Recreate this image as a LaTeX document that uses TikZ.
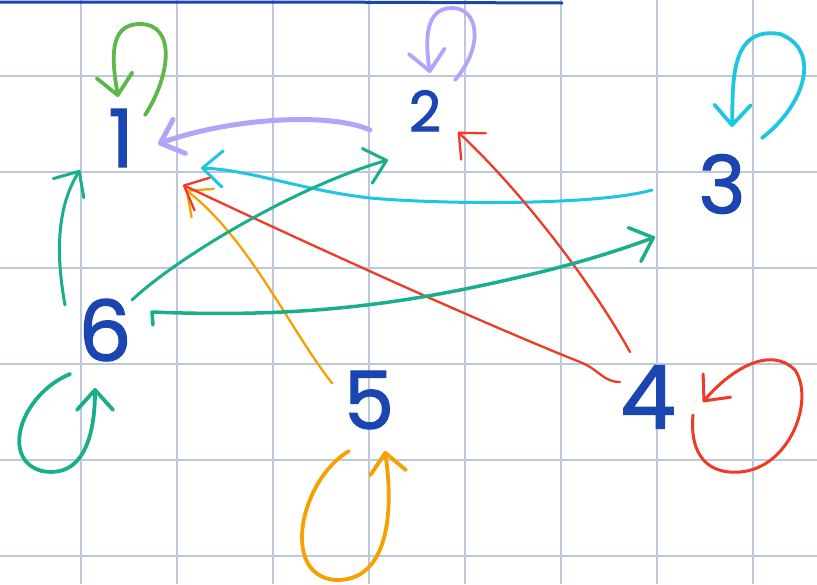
\documentclass[tikz,border=0pt]{standalone}
\usepackage{fontspec}
\newfontfamily\numfont{Poppins}[FakeBold=1.6]
\usetikzlibrary{arrows.meta,calc}
\definecolor{gridc}{RGB}{188,200,220}
\definecolor{numc}{RGB}{27,70,178}
\definecolor{lgreen}{RGB}{93,184,72}
\definecolor{teal}{RGB}{26,174,140}
\definecolor{lav}{RGB}{179,164,251}
\definecolor{cyanc}{RGB}{30,198,226}
\definecolor{redc}{RGB}{238,58,38}
\definecolor{orangec}{RGB}{247,160,0}
\tikzset{
  num/.style={text=numc,inner sep=0pt,font=\numfont\fontsize{80}{80}\selectfont},
  pen/.style={line width=3pt,line cap=round,line join=round},
  arr/.style={pen,-{Straight Barb[length=20pt,width=36pt,line cap=round,line join=round]}},
  loop/.style={arr,line width=3.8pt},
  thin/.style={line width=2.3pt},
}
\begin{document}
\begin{tikzpicture}[x=1pt,y=-1pt]
\useasboundingbox (0,0) rectangle (817,584);
\fill[white] (0,0) rectangle (817,584);
% grid
\foreach \gx in {81,177,...,753} \draw[gridc,line width=1.4pt] (\gx,0) -- (\gx,584);
\foreach \gy in {76,172,...,556} \draw[gridc,line width=1.4pt] (0,\gy) -- (817,\gy);
% top stroke
\draw[numc,line width=3pt,line cap=round] (0,2) -- (300,2) -- (562,3);
% numbers
\node[num] (n1) at (121,138) {1};
\node[num,font=\numfont\fontsize{56}{56}\selectfont] (n2) at (425,111) {2};
\node[num] (n3) at (722,184) {3};
\node[num,font=\numfont\fontsize{88}{88}\selectfont] (n4) at (648,397) {4};
\node[num] (n5) at (369,400) {5};
\node[num,font=\numfont\fontsize{84}{84}\selectfont] (n6) at (105,330) {6};
% self-loops
\draw[loop,lgreen] ($(n1)+(24,-23)$) .. controls ($(n1)+(50,-63)$) and ($(n1)+(55,-114)$) .. ($(n1)+(19,-114)$) .. controls ($(n1)+(-13,-114)$) and ($(n1)+(-9,-78)$) .. ($(n1)+(-3,-41)$);
\draw[loop,lav] ($(n2)+(30,-31)$) .. controls ($(n2)+(60,-66)$) and ($(n2)+(53,-103)$) .. ($(n2)+(27,-103)$) .. controls ($(n2)+(0,-103)$) and ($(n2)+(0,-71)$) .. ($(n2)+(5,-38)$);
\draw[loop,cyanc] ($(n3)+(40,-46)$) .. controls ($(n3)+(83,-79)$) and ($(n3)+(100,-134)$) .. ($(n3)+(58,-150)$) .. controls ($(n3)+(8,-158)$) and ($(n3)+(11,-103)$) .. ($(n3)+(10,-57)$);
\draw[arr,redc] ($(n4)+(45,18)$) .. controls ($(n4)+(42,48)$) and ($(n4)+(52,78)$) .. ($(n4)+(92,75)$) .. controls ($(n4)+(142,71)$) and ($(n4)+(167,3)$) .. ($(n4)+(147,-27)$) .. controls ($(n4)+(122,-52)$) and ($(n4)+(82,-27)$) .. ($(n4)+(55,5)$);
\draw[loop,orangec] ($(n5)+(-20,51)$) .. controls ($(n5)+(-69,80)$) and ($(n5)+(-89,175)$) .. ($(n5)+(-34,180)$) .. controls ($(n5)+(16,182)$) and ($(n5)+(26,120)$) .. ($(n5)+(16,51)$);
\draw[loop,teal] ($(n6)+(-35,44)$) .. controls ($(n6)+(-85,65)$) and ($(n6)+(-105,130)$) .. ($(n6)+(-63,141)$) .. controls ($(n6)+(-15,150)$) and ($(n6)+(-10,90)$) .. ($(n6)+(-10,58)$);
% edges
\draw[arr,lav,line width=5pt] ($(n2)+(-55,19)$) .. controls ($(n2)+(-95,1)$) and ($(n2)+(-195,7)$) .. ($(n1)+(37,6)$);
\draw[arr,cyanc] ($(n3)+(-70,6)$) .. controls ($(n3)+(-122,21)$) and ($(n3)+(-272,21)$) .. ($(n3)+(-352,14)$) .. controls ($(n1)+(180,52)$) and ($(n1)+(130,32)$) .. ($(n1)+(80,30)$);
\draw[arr,teal] ($(n6)+(-40,-25)$) .. controls ($(n6)+(-50,-80)$) and ($(n6)+(-47,-125)$) .. ($(n1)+(-41,32)$);
\draw[arr,thin,orangec] ($(n5)+(-37,-17)$) .. controls ($(n5)+(-79,-70)$) and ($(n5)+(-119,-160)$) .. ($(n1)+(65,52)$);
\draw[arr,thin,redc] ($(n4)+(-28,-15)$) .. controls ($(n4)+(-45,-15)$) and ($(n4)+(-48,-27)$) .. ($(n4)+(-68,-35)$) .. controls ($(n4)+(-178,-79)$) and ($(n4)+(-348,-157)$) .. ($(n1)+(62,47)$);
\draw[arr,teal] ($(n6)+(27,-30)$) .. controls ($(n6)+(75,-75)$) and ($(n6)+(195,-145)$) .. ($(n2)+(-37,49)$);
\draw[arr,thin,redc] ($(n4)+(-18,-45)$) .. controls ($(n4)+(-58,-117)$) and ($(n4)+(-128,-207)$) .. ($(n2)+(33,21)$);
\draw[arr,teal,line width=3.5pt] ($(n6)+(48,-5)$) -- ($(n6)+(47,-18)$) .. controls ($(n6)+(195,-12)$) and ($(n6)+(295,-25)$) .. ($(n6)+(415,-53)$) .. controls ($(n6)+(475,-67)$) and ($(n3)+(-102,66)$) .. ($(n3)+(-67,53)$);
\end{tikzpicture}
\end{document}
